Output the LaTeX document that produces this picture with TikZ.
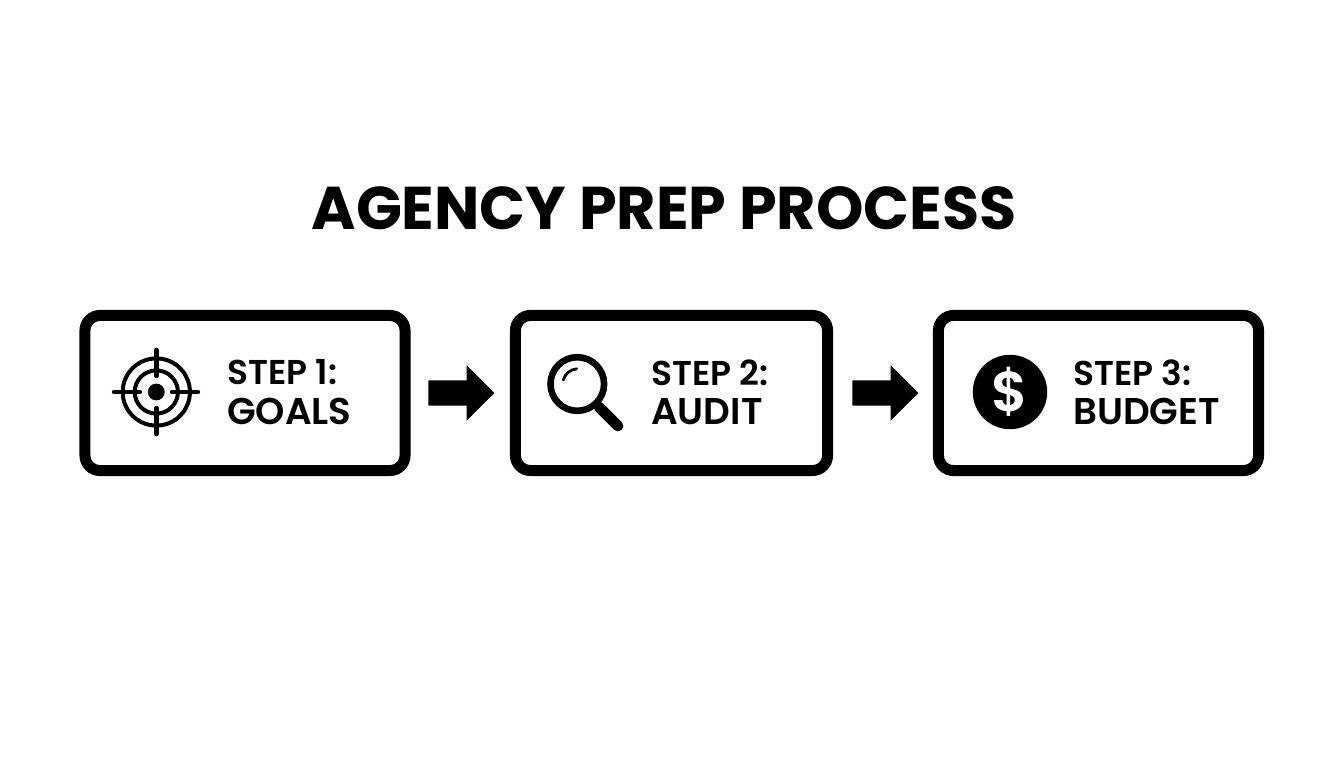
\documentclass[tikz,border=0pt]{standalone}
\usepackage{fontspec}
\setmainfont{Poppins}[BoldFont={* Bold}]
\newfontfamily\labelfont{Poppins SemiBold}
\usetikzlibrary{positioning,shapes.arrows}
\newcommand{\bigline}{\fontsize{26.5}{28}\selectfont}
\tikzset{
  stepbox/.style={draw=black,line width=0.275cm,rounded corners=0.375cm,minimum height=3.875cm,inner sep=0pt},
  steplabel/.style={font=\labelfont\fontsize{24.5}{28}\selectfont,align=left,anchor=west,inner sep=0pt},
  nextarrow/.style={fill=black,single arrow,single arrow head extend=0.375cm,single arrow tip angle=90,minimum width=1.375cm,minimum height=1.65cm,inner xsep=0pt,inner ysep=0.31cm},
}
\begin{document}
\begin{tikzpicture}[x=0.025cm,y=-0.025cm]
  \useasboundingbox (0,0) rectangle (1344,768);
  \node[font=\bfseries\fontsize{42.9}{48}\selectfont] (title) at (664,208) {AGENCY PREP PROCESS};
  % boxes
  \node[stepbox,minimum width=8cm] (goals) at (245,393) {};
  \node[stepbox,minimum width=7.8cm] (audit) at (671.5,393) {};
  \node[stepbox,minimum width=8cm] (budget) at (1098.5,393) {};
  \node[steplabel] (goalstext) at (227,392) {STEP 1:\\{\bigline GOALS}};
  \node[steplabel] (audittext) at (651,392) {STEP 2:\\{\bigline AUDIT}};
  \node[steplabel] (budgettext) at (1073,392) {STEP 3:\\{\bigline BUDGET}};
  % arrows
  \node[nextarrow] (arrowa) at (455,393) {};
  \node[nextarrow] (arrowb) at (879,393) {};
  % target
  \coordinate (target) at (156.3,392);
  \draw[line width=0.1cm] (target) circle (0.84cm);
  \draw[line width=0.1cm] (target) circle (0.54cm);
  \fill (target) circle (0.21cm);
  \draw[line width=0.11cm,line cap=round] (114,392) -- (140,392) (172,392) -- (198,392) (156.3,350) -- (156.3,376) (156.3,408) -- (156.3,434);
  % magnifier
  \coordinate (lens) at (577.3,384);
  \draw[line width=0.165cm] (lens) circle (0.67cm);
  \draw[line width=0.07cm,line cap=round] (563.3,380) arc (165:95:0.38cm);
  \draw[line width=0.27cm,line cap=round] (599,407) -- (618,426);
  % dollar
  \node[circle,fill=black,minimum size=1.86cm,inner sep=0pt] (coin) at (1010,392) {};
  \node[text=white,inner sep=0pt,font=\labelfont\fontsize{40}{40}\selectfont] (coinsign) at (coin.center) {\$};
\end{tikzpicture}
\end{document}
